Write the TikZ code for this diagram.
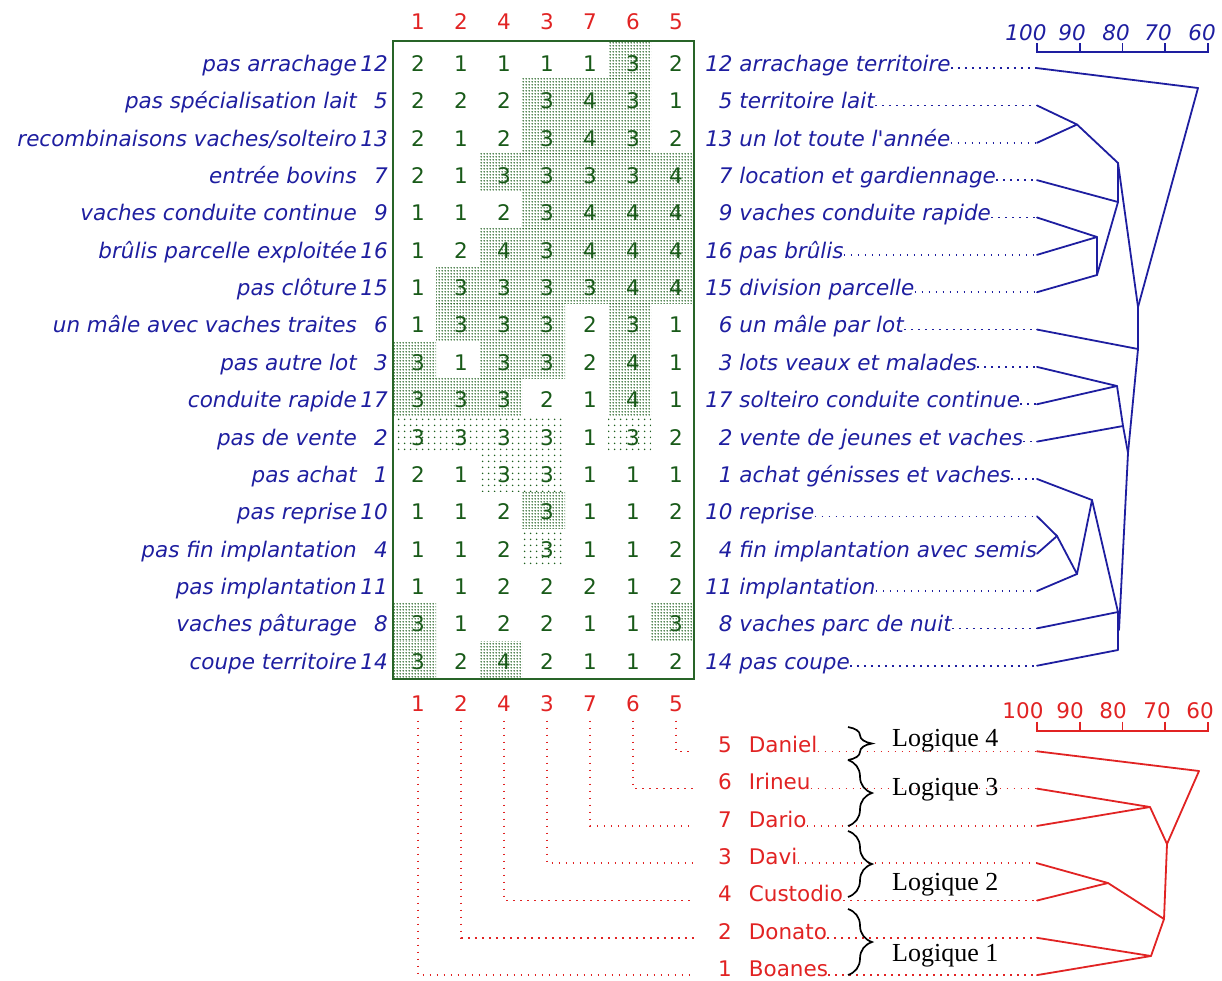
\documentclass[tikz,border=0pt]{standalone}
\usepackage{fontspec}
\newfontfamily\lab{DejaVu Sans}
\newfontfamily\tms{Liberation Serif}
\usetikzlibrary{patterns,decorations.pathreplacing}
\definecolor{myblue}{RGB}{30,30,160}
\definecolor{myred}{RGB}{225,35,35}
\definecolor{mygreen}{RGB}{25,90,25}
\definecolor{boxgreen}{RGB}{40,100,40}
\definecolor{patgreen}{RGB}{30,95,30}
\pgfdeclarepatternformonly{densedots}{\pgfpoint{0pt}{0pt}}{\pgfpoint{3pt}{3pt}}{\pgfpoint{3pt}{3pt}}{\pgfpathcircle{\pgfpoint{1.5pt}{1.5pt}}{1.0pt}\pgfusepath{fill}}
\pgfdeclarepatternformonly{sparsedots}{\pgfpoint{0pt}{0pt}}{\pgfpoint{6pt}{6pt}}{\pgfpoint{6pt}{6pt}}{\pgfpathcircle{\pgfpoint{3pt}{3pt}}{0.95pt}\pgfusepath{fill}}
\begin{document}
\begin{tikzpicture}[x=1pt,y=-1pt,
  lbl/.style={font=\lab\itshape\fontsize{21.5}{24}\selectfont, text=myblue, inner sep=0pt},
  redlbl/.style={font=\lab\fontsize{21.5}{24}\selectfont, text=myred, inner sep=0pt},
  cell/.style={font=\lab\fontsize{21.5}{24}\selectfont, text=mygreen, inner sep=0pt, anchor=base},
  collab/.style={redlbl, anchor=base},
  logi/.style={font=\tms\fontsize{26}{28}\selectfont, text=black, inner sep=0pt, anchor=base west},
  dotline/.style={line width=1.6pt, dash pattern=on 1.6pt off 5.4pt},
  dendro/.style={line width=1.8pt, line join=round, line cap=round},
  dense/.style={pattern=densedots, pattern color=patgreen},
  sparse/.style={pattern=sparsedots, pattern color=patgreen},
  bracestyle/.style={decorate, decoration={brace, amplitude=24pt}, line width=1.7pt, black}]
\useasboundingbox (0,0) rectangle (1222,980);

% ---- shading of the matrix
\foreach \k/\j in {1/6,2/4,2/5,2/6,3/4,3/5,3/6,4/3,4/4,4/5,4/6,4/7,5/4,5/5,5/6,5/7,6/3,6/4,6/5,6/6,6/7,7/2,7/3,7/4,7/5,7/6,7/7,8/2,8/3,8/4,8/6,9/1,9/3,9/4,9/6,10/1,10/2,10/3,10/6,13/4,16/1,16/7,17/1,17/3}
  \fill[dense] ({393+43*(\j-1)},{41+37.53*(\k-1)}) rectangle ++(43,37.53);
\foreach \k/\j in {11/1,11/2,11/3,11/4,11/6,12/3,12/4,14/4}
  \fill[sparse] ({393+43*(\j-1)},{41+37.53*(\k-1)}) rectangle ++(43,37.53);

% ---- box
\draw[boxgreen, line width=2pt] (393,41) rectangle (694,679);

% ---- matrix values
\foreach \row [count=\k] in {{2,1,1,1,1,3,2},{2,2,2,3,4,3,1},{2,1,2,3,4,3,2},{2,1,3,3,3,3,4},{1,1,2,3,4,4,4},{1,2,4,3,4,4,4},{1,3,3,3,3,4,4},{1,3,3,3,2,3,1},{3,1,3,3,2,4,1},{3,3,3,2,1,4,1},{3,3,3,3,1,3,2},{2,1,3,3,1,1,1},{1,1,2,3,1,1,2},{1,1,2,3,1,1,2},{1,1,2,2,2,1,2},{3,1,2,2,1,1,3},{3,2,4,2,1,1,2}}
  {\foreach \v [count=\j] in \row
    {\node[cell] (c\k-\j) at ({418+43*(\j-1)},{71.5+37.35*(\k-1)}) {\v};}}

% ---- column labels
\foreach \c [count=\j] in {1,2,4,3,7,6,5} {
  \node[collab] (tc\j) at ({418+43*(\j-1)},29.5) {\c};
  \node[collab] (bc\j) at ({418+43*(\j-1)},711.7) {\c};
}

% ---- left labels
\foreach \t/\n [count=\k] in {pas arrachage/12, pas spécialisation lait/5, {recombinaisons vaches/solteiro}/13, entrée bovins/7, vaches conduite continue/9, brûlis parcelle exploitée/16, pas clôture/15, un mâle avec vaches traites/6, pas autre lot/3, conduite rapide/17, pas de vente/2, pas achat/1, pas reprise/10, pas fin implantation/4, pas implantation/11, vaches pâturage/8, coupe territoire/14}
  \node[lbl, anchor=base east] (l\k) at (388,{71.5+37.35*(\k-1)}) {\t\makebox[31pt][r]{\n}};

% ---- right labels
\foreach \n/\t [count=\k] in {12/arrachage territoire, 5/territoire lait, 13/un lot toute l'année, 7/location et gardiennage, 9/vaches conduite rapide, 16/pas brûlis, 15/division parcelle, 6/un mâle par lot, 3/lots veaux et malades, 17/solteiro conduite continue, 2/vente de jeunes et vaches, 1/achat génisses et vaches, 10/reprise, 4/fin implantation avec semis, 11/implantation, 8/vaches parc de nuit, 14/pas coupe}
  \node[lbl, anchor=base west] (r\k) at (705,{71.5+37.35*(\k-1)}) {\makebox[27.4pt][r]{\n}\ \t};

% ---- blue leaves and dotted leaders
\foreach \k in {1,...,17} \coordinate (bl\k) at (1037,{68.1+37.35*(\k-1)});
\foreach \k in {1,...,13,15,16,17} \draw[dotline, myblue] (r\k.base east |- bl\k) -- (bl\k);

% ---- blue dendrogram
\coordinate (bA) at (1198,88);
\coordinate (bB) at (1077,124.5);
\coordinate (bC) at (1118,163);
\coordinate (bD) at (1118,202);
\coordinate (bM) at (1097,237);
\coordinate (bN) at (1097,275);
\coordinate (bE) at (1138,307);
\coordinate (bE2) at (1138,349);
\coordinate (bF) at (1117,386);
\coordinate (bG) at (1123,426);
\coordinate (bG2) at (1128,453);
\coordinate (bH) at (1092,500);
\coordinate (bI) at (1057,536);
\coordinate (bJ) at (1077,574);
\coordinate (bK) at (1118,612);
\coordinate (bL) at (1118,650);
\coordinate (bZ) at (1119,630);
\begin{scope}[dendro, myblue]
\draw (bl1) -- (bA) -- (bE) -- (bE2) -- (bG2) -- (bZ);
\draw (bl2) -- (bB) -- (bl3);
\draw (bB) -- (bC) -- (bD);
\draw (bC) -- (bE);
\draw (bl4) -- (bD);
\draw (bl5) -- (bM) -- (bl6);
\draw (bM) -- (bN);
\draw (bl7) -- (bN) -- (bD);
\draw (bl8) -- (bE2);
\draw (bl9) -- (bF) -- (bl10);
\draw (bF) -- (bG) -- (bG2);
\draw (bl11) -- (bG);
\draw (bl12) -- (bH) -- (bK);
\draw (bl13) -- (bI) -- (bl14);
\draw (bI) -- (bJ) -- (bH);
\draw (bl15) -- (bJ);
\draw (bl16) -- (bK) -- (bL) -- (bl17);
\end{scope}

% ---- blue scale
\draw[myblue, line width=1.6pt] (1037,43) -- (1037,52) -- (1208,52) -- (1208,43);
\foreach \x in {1079.7,1122.4,1165.1} \draw[myblue, line width=1.6pt] (\x,43) -- (\x,52);
\foreach \v/\x in {100/1026,90/1072,80/1116,70/1158,60/1202}
  \node[lbl, anchor=base] (ts\v) at (\x,40) {\v};

% ---- red names
\foreach \n/\t [count=\k] in {5/Daniel,6/Irineu,7/Dario,3/Davi,4/Custodio,2/Donato,1/Boanes}
  \node[redlbl, anchor=base west] (n\k) at (718,{752.5+37.3*(\k-1)}) {\n\hspace{17pt}\t};
\foreach \k in {1,...,7} {
  \coordinate (rl\k) at (1037,{751.3+37.3*(\k-1)});
  \coordinate (rs\k) at (694,{751.3+37.3*(\k-1)});
  \draw[dotline, myred] (n\k.base east |- rl\k) -- (rl\k);
}
\foreach \j in {1,...,7} {
  \pgfmathtruncatemacro{\rr}{8-\j}
  \draw[dotline, myred] ([yshift=-9pt]bc\j.base) |- (rs\rr);
}

% ---- red dendrogram
\coordinate (rP1) at (1199,771);
\coordinate (rP2) at (1150,807);
\coordinate (rP3) at (1167,844);
\coordinate (rP4) at (1108,883);
\coordinate (rP5) at (1164,919);
\coordinate (rP6) at (1151,956);
\begin{scope}[dendro, myred]
\draw (rl1) -- (rP1) -- (rP3);
\draw (rl2) -- (rP2) -- (rl3);
\draw (rP2) -- (rP3) -- (rP5);
\draw (rl4) -- (rP4) -- (rl5);
\draw (rP4) -- (rP5) -- (rP6);
\draw (rl6) -- (rP6) -- (rl7);
\end{scope}

% ---- red scale
\draw[myred, line width=1.6pt] (1037,721.7) -- (1037,730.7) -- (1208,730.7) -- (1208,721.7);
\foreach \x in {1079.7,1122.4,1165.1} \draw[myred, line width=1.6pt] (\x,721.7) -- (\x,730.7);
\foreach \v/\x in {100/1023,90/1070,80/1113,70/1157,60/1200}
  \node[redlbl, anchor=base] (bs\v) at (\x,718.3) {\v};

% ---- braces
\coordinate (br1t) at (848,727);   \coordinate (br1b) at (848,760);
\coordinate (br2t) at (848,760);   \coordinate (br2b) at (848,826);
\coordinate (br3t) at (848,831);   \coordinate (br3b) at (848,897);
\coordinate (br4t) at (848,909);   \coordinate (br4b) at (848,975);
\draw[bracestyle] (br1t) -- (br1b);
\draw[bracestyle] (br2t) -- (br2b);
\draw[bracestyle] (br3t) -- (br3b);
\draw[bracestyle] (br4t) -- (br4b);

% ---- logique labels
\node[logi] (lg4) at (892,746.7) {Logique 4};
\node[logi] (lg3) at (892,795) {Logique 3};
\node[logi] (lg2) at (892,890) {Logique 2};
\node[logi] (lg1) at (892,961.7) {Logique 1};
\end{tikzpicture}
\end{document}
